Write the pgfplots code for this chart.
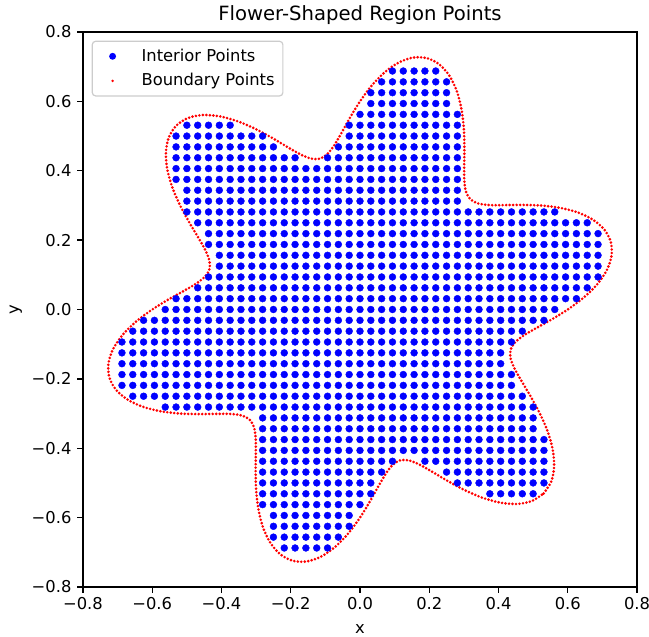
\documentclass[border=0pt]{standalone}
\usepackage{fontspec}
\setmainfont{DejaVu Sans}
\usepackage{pgfplots}
\pgfplotsset{compat=1.18}
\usepackage{pgfplotstable}

% boundary r = 0.6 + 0.15 sin(6 theta), every 3 degrees
\pgfplotstableread{
x y
0.5303 -0.5303
0.5519 -0.4969
0.5606 -0.4540
0.5567 -0.4045
0.5421 -0.3520
0.5196 -0.3000
0.4933 -0.2514
0.4676 -0.2082
0.4469 -0.1715
0.4350 -0.1413
0.4347 -0.1165
0.4474 -0.0951
0.4728 -0.0749
0.5090 -0.0535
0.5529 -0.0290
0.6000 0.0000
0.6455 0.0338
0.6844 0.0719
0.7125 0.1128
0.7264 0.1544
0.7244 0.1941
0.7063 0.2295
0.6734 0.2585
0.6287 0.2799
0.5759 0.2934
0.5196 0.3000
0.4643 0.3015
0.4141 0.3009
0.3720 0.3012
0.3399 0.3060
0.3182 0.3182
0.3060 0.3399
0.3012 0.3720
0.3009 0.4141
0.3015 0.4643
0.3000 0.5196
0.2934 0.5759
0.2799 0.6287
0.2585 0.6734
0.2295 0.7063
0.1941 0.7244
0.1544 0.7264
0.1128 0.7125
0.0719 0.6844
0.0338 0.6455
0.0000 0.6000
-0.0290 0.5529
-0.0535 0.5090
-0.0749 0.4728
-0.0951 0.4474
-0.1165 0.4347
-0.1413 0.4350
-0.1715 0.4469
-0.2082 0.4676
-0.2514 0.4933
-0.3000 0.5196
-0.3520 0.5421
-0.4045 0.5567
-0.4540 0.5606
-0.4969 0.5519
-0.5303 0.5303
-0.5519 0.4969
-0.5606 0.4540
-0.5567 0.4045
-0.5421 0.3520
-0.5196 0.3000
-0.4933 0.2514
-0.4676 0.2082
-0.4469 0.1715
-0.4350 0.1413
-0.4347 0.1165
-0.4474 0.0951
-0.4728 0.0749
-0.5090 0.0535
-0.5529 0.0290
-0.6000 0.0000
-0.6455 -0.0338
-0.6844 -0.0719
-0.7125 -0.1128
-0.7264 -0.1544
-0.7244 -0.1941
-0.7063 -0.2295
-0.6734 -0.2585
-0.6287 -0.2799
-0.5759 -0.2934
-0.5196 -0.3000
-0.4643 -0.3015
-0.4141 -0.3009
-0.3720 -0.3012
-0.3399 -0.3060
-0.3182 -0.3182
-0.3060 -0.3399
-0.3012 -0.3720
-0.3009 -0.4141
-0.3015 -0.4643
-0.3000 -0.5196
-0.2934 -0.5759
-0.2799 -0.6287
-0.2585 -0.6734
-0.2295 -0.7063
-0.1941 -0.7244
-0.1544 -0.7264
-0.1128 -0.7125
-0.0719 -0.6844
-0.0338 -0.6455
0.0000 -0.6000
0.0290 -0.5529
0.0535 -0.5090
0.0749 -0.4728
0.0951 -0.4474
0.1165 -0.4347
0.1413 -0.4350
0.1715 -0.4469
0.2082 -0.4676
0.2514 -0.4933
0.3000 -0.5196
0.3520 -0.5421
0.4045 -0.5567
0.4540 -0.5606
0.4969 -0.5519
0.5303 -0.5303
}\boundary

\pgfplotstableread{
x y
0.09375 0.6875
0.125 0.6875
0.15625 0.6875
0.1875 0.6875
0.21875 0.6875
0.0625 0.65625
0.09375 0.65625
0.125 0.65625
0.15625 0.65625
0.1875 0.65625
0.21875 0.65625
0.25 0.65625
0.03125 0.625
0.0625 0.625
0.09375 0.625
0.125 0.625
0.15625 0.625
0.1875 0.625
0.21875 0.625
0.25 0.625
0.03125 0.59375
0.0625 0.59375
0.09375 0.59375
0.125 0.59375
0.15625 0.59375
0.1875 0.59375
0.21875 0.59375
0.25 0.59375
0 0.5625
0.03125 0.5625
0.0625 0.5625
0.09375 0.5625
0.125 0.5625
0.15625 0.5625
0.1875 0.5625
0.21875 0.5625
0.25 0.5625
0.28125 0.5625
-0.5 0.53125
-0.46875 0.53125
-0.4375 0.53125
-0.40625 0.53125
-0.375 0.53125
-0.03125 0.53125
0 0.53125
0.03125 0.53125
0.0625 0.53125
0.09375 0.53125
0.125 0.53125
0.15625 0.53125
0.1875 0.53125
0.21875 0.53125
0.25 0.53125
0.28125 0.53125
-0.53125 0.5
-0.5 0.5
-0.46875 0.5
-0.4375 0.5
-0.40625 0.5
-0.375 0.5
-0.34375 0.5
-0.3125 0.5
-0.28125 0.5
-0.03125 0.5
0 0.5
0.03125 0.5
0.0625 0.5
0.09375 0.5
0.125 0.5
0.15625 0.5
0.1875 0.5
0.21875 0.5
0.25 0.5
0.28125 0.5
-0.53125 0.46875
-0.5 0.46875
-0.46875 0.46875
-0.4375 0.46875
-0.40625 0.46875
-0.375 0.46875
-0.34375 0.46875
-0.3125 0.46875
-0.28125 0.46875
-0.25 0.46875
-0.0625 0.46875
-0.03125 0.46875
0 0.46875
0.03125 0.46875
0.0625 0.46875
0.09375 0.46875
0.125 0.46875
0.15625 0.46875
0.1875 0.46875
0.21875 0.46875
0.25 0.46875
0.28125 0.46875
-0.53125 0.4375
-0.5 0.4375
-0.46875 0.4375
-0.4375 0.4375
-0.40625 0.4375
-0.375 0.4375
-0.34375 0.4375
-0.3125 0.4375
-0.28125 0.4375
-0.25 0.4375
-0.21875 0.4375
-0.1875 0.4375
-0.09375 0.4375
-0.0625 0.4375
-0.03125 0.4375
0 0.4375
0.03125 0.4375
0.0625 0.4375
0.09375 0.4375
0.125 0.4375
0.15625 0.4375
0.1875 0.4375
0.21875 0.4375
0.25 0.4375
0.28125 0.4375
-0.53125 0.40625
-0.5 0.40625
-0.46875 0.40625
-0.4375 0.40625
-0.40625 0.40625
-0.375 0.40625
-0.34375 0.40625
-0.3125 0.40625
-0.28125 0.40625
-0.25 0.40625
-0.21875 0.40625
-0.1875 0.40625
-0.15625 0.40625
-0.125 0.40625
-0.09375 0.40625
-0.0625 0.40625
-0.03125 0.40625
0 0.40625
0.03125 0.40625
0.0625 0.40625
0.09375 0.40625
0.125 0.40625
0.15625 0.40625
0.1875 0.40625
0.21875 0.40625
0.25 0.40625
0.28125 0.40625
-0.53125 0.375
-0.5 0.375
-0.46875 0.375
-0.4375 0.375
-0.40625 0.375
-0.375 0.375
-0.34375 0.375
-0.3125 0.375
-0.28125 0.375
-0.25 0.375
-0.21875 0.375
-0.1875 0.375
-0.15625 0.375
-0.125 0.375
-0.09375 0.375
-0.0625 0.375
-0.03125 0.375
0 0.375
0.03125 0.375
0.0625 0.375
0.09375 0.375
0.125 0.375
0.15625 0.375
0.1875 0.375
0.21875 0.375
0.25 0.375
0.28125 0.375
-0.5 0.34375
-0.46875 0.34375
-0.4375 0.34375
-0.40625 0.34375
-0.375 0.34375
-0.34375 0.34375
-0.3125 0.34375
-0.28125 0.34375
-0.25 0.34375
-0.21875 0.34375
-0.1875 0.34375
-0.15625 0.34375
-0.125 0.34375
-0.09375 0.34375
-0.0625 0.34375
-0.03125 0.34375
0 0.34375
0.03125 0.34375
0.0625 0.34375
0.09375 0.34375
0.125 0.34375
0.15625 0.34375
0.1875 0.34375
0.21875 0.34375
0.25 0.34375
0.28125 0.34375
-0.5 0.3125
-0.46875 0.3125
-0.4375 0.3125
-0.40625 0.3125
-0.375 0.3125
-0.34375 0.3125
-0.3125 0.3125
-0.28125 0.3125
-0.25 0.3125
-0.21875 0.3125
-0.1875 0.3125
-0.15625 0.3125
-0.125 0.3125
-0.09375 0.3125
-0.0625 0.3125
-0.03125 0.3125
0 0.3125
0.03125 0.3125
0.0625 0.3125
0.09375 0.3125
0.125 0.3125
0.15625 0.3125
0.1875 0.3125
0.21875 0.3125
0.25 0.3125
0.28125 0.3125
-0.5 0.28125
-0.46875 0.28125
-0.4375 0.28125
-0.40625 0.28125
-0.375 0.28125
-0.34375 0.28125
-0.3125 0.28125
-0.28125 0.28125
-0.25 0.28125
-0.21875 0.28125
-0.1875 0.28125
-0.15625 0.28125
-0.125 0.28125
-0.09375 0.28125
-0.0625 0.28125
-0.03125 0.28125
0 0.28125
0.03125 0.28125
0.0625 0.28125
0.09375 0.28125
0.125 0.28125
0.15625 0.28125
0.1875 0.28125
0.21875 0.28125
0.25 0.28125
0.28125 0.28125
0.3125 0.28125
0.34375 0.28125
0.375 0.28125
0.40625 0.28125
0.4375 0.28125
0.46875 0.28125
0.5 0.28125
0.53125 0.28125
0.5625 0.28125
-0.46875 0.25
-0.4375 0.25
-0.40625 0.25
-0.375 0.25
-0.34375 0.25
-0.3125 0.25
-0.28125 0.25
-0.25 0.25
-0.21875 0.25
-0.1875 0.25
-0.15625 0.25
-0.125 0.25
-0.09375 0.25
-0.0625 0.25
-0.03125 0.25
0 0.25
0.03125 0.25
0.0625 0.25
0.09375 0.25
0.125 0.25
0.15625 0.25
0.1875 0.25
0.21875 0.25
0.25 0.25
0.28125 0.25
0.3125 0.25
0.34375 0.25
0.375 0.25
0.40625 0.25
0.4375 0.25
0.46875 0.25
0.5 0.25
0.53125 0.25
0.5625 0.25
0.59375 0.25
0.625 0.25
0.65625 0.25
-0.4375 0.21875
-0.40625 0.21875
-0.375 0.21875
-0.34375 0.21875
-0.3125 0.21875
-0.28125 0.21875
-0.25 0.21875
-0.21875 0.21875
-0.1875 0.21875
-0.15625 0.21875
-0.125 0.21875
-0.09375 0.21875
-0.0625 0.21875
-0.03125 0.21875
0 0.21875
0.03125 0.21875
0.0625 0.21875
0.09375 0.21875
0.125 0.21875
0.15625 0.21875
0.1875 0.21875
0.21875 0.21875
0.25 0.21875
0.28125 0.21875
0.3125 0.21875
0.34375 0.21875
0.375 0.21875
0.40625 0.21875
0.4375 0.21875
0.46875 0.21875
0.5 0.21875
0.53125 0.21875
0.5625 0.21875
0.59375 0.21875
0.625 0.21875
0.65625 0.21875
0.6875 0.21875
-0.4375 0.1875
-0.40625 0.1875
-0.375 0.1875
-0.34375 0.1875
-0.3125 0.1875
-0.28125 0.1875
-0.25 0.1875
-0.21875 0.1875
-0.1875 0.1875
-0.15625 0.1875
-0.125 0.1875
-0.09375 0.1875
-0.0625 0.1875
-0.03125 0.1875
0 0.1875
0.03125 0.1875
0.0625 0.1875
0.09375 0.1875
0.125 0.1875
0.15625 0.1875
0.1875 0.1875
0.21875 0.1875
0.25 0.1875
0.28125 0.1875
0.3125 0.1875
0.34375 0.1875
0.375 0.1875
0.40625 0.1875
0.4375 0.1875
0.46875 0.1875
0.5 0.1875
0.53125 0.1875
0.5625 0.1875
0.59375 0.1875
0.625 0.1875
0.65625 0.1875
0.6875 0.1875
-0.40625 0.15625
-0.375 0.15625
-0.34375 0.15625
-0.3125 0.15625
-0.28125 0.15625
-0.25 0.15625
-0.21875 0.15625
-0.1875 0.15625
-0.15625 0.15625
-0.125 0.15625
-0.09375 0.15625
-0.0625 0.15625
-0.03125 0.15625
0 0.15625
0.03125 0.15625
0.0625 0.15625
0.09375 0.15625
0.125 0.15625
0.15625 0.15625
0.1875 0.15625
0.21875 0.15625
0.25 0.15625
0.28125 0.15625
0.3125 0.15625
0.34375 0.15625
0.375 0.15625
0.40625 0.15625
0.4375 0.15625
0.46875 0.15625
0.5 0.15625
0.53125 0.15625
0.5625 0.15625
0.59375 0.15625
0.625 0.15625
0.65625 0.15625
0.6875 0.15625
-0.40625 0.125
-0.375 0.125
-0.34375 0.125
-0.3125 0.125
-0.28125 0.125
-0.25 0.125
-0.21875 0.125
-0.1875 0.125
-0.15625 0.125
-0.125 0.125
-0.09375 0.125
-0.0625 0.125
-0.03125 0.125
0 0.125
0.03125 0.125
0.0625 0.125
0.09375 0.125
0.125 0.125
0.15625 0.125
0.1875 0.125
0.21875 0.125
0.25 0.125
0.28125 0.125
0.3125 0.125
0.34375 0.125
0.375 0.125
0.40625 0.125
0.4375 0.125
0.46875 0.125
0.5 0.125
0.53125 0.125
0.5625 0.125
0.59375 0.125
0.625 0.125
0.65625 0.125
0.6875 0.125
-0.4375 0.09375
-0.40625 0.09375
-0.375 0.09375
-0.34375 0.09375
-0.3125 0.09375
-0.28125 0.09375
-0.25 0.09375
-0.21875 0.09375
-0.1875 0.09375
-0.15625 0.09375
-0.125 0.09375
-0.09375 0.09375
-0.0625 0.09375
-0.03125 0.09375
0 0.09375
0.03125 0.09375
0.0625 0.09375
0.09375 0.09375
0.125 0.09375
0.15625 0.09375
0.1875 0.09375
0.21875 0.09375
0.25 0.09375
0.28125 0.09375
0.3125 0.09375
0.34375 0.09375
0.375 0.09375
0.40625 0.09375
0.4375 0.09375
0.46875 0.09375
0.5 0.09375
0.53125 0.09375
0.5625 0.09375
0.59375 0.09375
0.625 0.09375
0.65625 0.09375
0.6875 0.09375
-0.46875 0.0625
-0.4375 0.0625
-0.40625 0.0625
-0.375 0.0625
-0.34375 0.0625
-0.3125 0.0625
-0.28125 0.0625
-0.25 0.0625
-0.21875 0.0625
-0.1875 0.0625
-0.15625 0.0625
-0.125 0.0625
-0.09375 0.0625
-0.0625 0.0625
-0.03125 0.0625
0 0.0625
0.03125 0.0625
0.0625 0.0625
0.09375 0.0625
0.125 0.0625
0.15625 0.0625
0.1875 0.0625
0.21875 0.0625
0.25 0.0625
0.28125 0.0625
0.3125 0.0625
0.34375 0.0625
0.375 0.0625
0.40625 0.0625
0.4375 0.0625
0.46875 0.0625
0.5 0.0625
0.53125 0.0625
0.5625 0.0625
0.59375 0.0625
0.625 0.0625
0.65625 0.0625
-0.53125 0.03125
-0.5 0.03125
-0.46875 0.03125
-0.4375 0.03125
-0.40625 0.03125
-0.375 0.03125
-0.34375 0.03125
-0.3125 0.03125
-0.28125 0.03125
-0.25 0.03125
-0.21875 0.03125
-0.1875 0.03125
-0.15625 0.03125
-0.125 0.03125
-0.09375 0.03125
-0.0625 0.03125
-0.03125 0.03125
0 0.03125
0.03125 0.03125
0.0625 0.03125
0.09375 0.03125
0.125 0.03125
0.15625 0.03125
0.1875 0.03125
0.21875 0.03125
0.25 0.03125
0.28125 0.03125
0.3125 0.03125
0.34375 0.03125
0.375 0.03125
0.40625 0.03125
0.4375 0.03125
0.46875 0.03125
0.5 0.03125
0.53125 0.03125
0.5625 0.03125
0.59375 0.03125
0.625 0.03125
-0.5625 0
-0.53125 0
-0.5 0
-0.46875 0
-0.4375 0
-0.40625 0
-0.375 0
-0.34375 0
-0.3125 0
-0.28125 0
-0.25 0
-0.21875 0
-0.1875 0
-0.15625 0
-0.125 0
-0.09375 0
-0.0625 0
-0.03125 0
0 0
0.03125 0
0.0625 0
0.09375 0
0.125 0
0.15625 0
0.1875 0
0.21875 0
0.25 0
0.28125 0
0.3125 0
0.34375 0
0.375 0
0.40625 0
0.4375 0
0.46875 0
0.5 0
0.53125 0
0.5625 0
-0.625 -0.03125
-0.59375 -0.03125
-0.5625 -0.03125
-0.53125 -0.03125
-0.5 -0.03125
-0.46875 -0.03125
-0.4375 -0.03125
-0.40625 -0.03125
-0.375 -0.03125
-0.34375 -0.03125
-0.3125 -0.03125
-0.28125 -0.03125
-0.25 -0.03125
-0.21875 -0.03125
-0.1875 -0.03125
-0.15625 -0.03125
-0.125 -0.03125
-0.09375 -0.03125
-0.0625 -0.03125
-0.03125 -0.03125
0 -0.03125
0.03125 -0.03125
0.0625 -0.03125
0.09375 -0.03125
0.125 -0.03125
0.15625 -0.03125
0.1875 -0.03125
0.21875 -0.03125
0.25 -0.03125
0.28125 -0.03125
0.3125 -0.03125
0.34375 -0.03125
0.375 -0.03125
0.40625 -0.03125
0.4375 -0.03125
0.46875 -0.03125
0.5 -0.03125
0.53125 -0.03125
-0.65625 -0.0625
-0.625 -0.0625
-0.59375 -0.0625
-0.5625 -0.0625
-0.53125 -0.0625
-0.5 -0.0625
-0.46875 -0.0625
-0.4375 -0.0625
-0.40625 -0.0625
-0.375 -0.0625
-0.34375 -0.0625
-0.3125 -0.0625
-0.28125 -0.0625
-0.25 -0.0625
-0.21875 -0.0625
-0.1875 -0.0625
-0.15625 -0.0625
-0.125 -0.0625
-0.09375 -0.0625
-0.0625 -0.0625
-0.03125 -0.0625
0 -0.0625
0.03125 -0.0625
0.0625 -0.0625
0.09375 -0.0625
0.125 -0.0625
0.15625 -0.0625
0.1875 -0.0625
0.21875 -0.0625
0.25 -0.0625
0.28125 -0.0625
0.3125 -0.0625
0.34375 -0.0625
0.375 -0.0625
0.40625 -0.0625
0.4375 -0.0625
0.46875 -0.0625
-0.6875 -0.09375
-0.65625 -0.09375
-0.625 -0.09375
-0.59375 -0.09375
-0.5625 -0.09375
-0.53125 -0.09375
-0.5 -0.09375
-0.46875 -0.09375
-0.4375 -0.09375
-0.40625 -0.09375
-0.375 -0.09375
-0.34375 -0.09375
-0.3125 -0.09375
-0.28125 -0.09375
-0.25 -0.09375
-0.21875 -0.09375
-0.1875 -0.09375
-0.15625 -0.09375
-0.125 -0.09375
-0.09375 -0.09375
-0.0625 -0.09375
-0.03125 -0.09375
0 -0.09375
0.03125 -0.09375
0.0625 -0.09375
0.09375 -0.09375
0.125 -0.09375
0.15625 -0.09375
0.1875 -0.09375
0.21875 -0.09375
0.25 -0.09375
0.28125 -0.09375
0.3125 -0.09375
0.34375 -0.09375
0.375 -0.09375
0.40625 -0.09375
0.4375 -0.09375
-0.6875 -0.125
-0.65625 -0.125
-0.625 -0.125
-0.59375 -0.125
-0.5625 -0.125
-0.53125 -0.125
-0.5 -0.125
-0.46875 -0.125
-0.4375 -0.125
-0.40625 -0.125
-0.375 -0.125
-0.34375 -0.125
-0.3125 -0.125
-0.28125 -0.125
-0.25 -0.125
-0.21875 -0.125
-0.1875 -0.125
-0.15625 -0.125
-0.125 -0.125
-0.09375 -0.125
-0.0625 -0.125
-0.03125 -0.125
0 -0.125
0.03125 -0.125
0.0625 -0.125
0.09375 -0.125
0.125 -0.125
0.15625 -0.125
0.1875 -0.125
0.21875 -0.125
0.25 -0.125
0.28125 -0.125
0.3125 -0.125
0.34375 -0.125
0.375 -0.125
0.40625 -0.125
-0.6875 -0.15625
-0.65625 -0.15625
-0.625 -0.15625
-0.59375 -0.15625
-0.5625 -0.15625
-0.53125 -0.15625
-0.5 -0.15625
-0.46875 -0.15625
-0.4375 -0.15625
-0.40625 -0.15625
-0.375 -0.15625
-0.34375 -0.15625
-0.3125 -0.15625
-0.28125 -0.15625
-0.25 -0.15625
-0.21875 -0.15625
-0.1875 -0.15625
-0.15625 -0.15625
-0.125 -0.15625
-0.09375 -0.15625
-0.0625 -0.15625
-0.03125 -0.15625
0 -0.15625
0.03125 -0.15625
0.0625 -0.15625
0.09375 -0.15625
0.125 -0.15625
0.15625 -0.15625
0.1875 -0.15625
0.21875 -0.15625
0.25 -0.15625
0.28125 -0.15625
0.3125 -0.15625
0.34375 -0.15625
0.375 -0.15625
0.40625 -0.15625
-0.6875 -0.1875
-0.65625 -0.1875
-0.625 -0.1875
-0.59375 -0.1875
-0.5625 -0.1875
-0.53125 -0.1875
-0.5 -0.1875
-0.46875 -0.1875
-0.4375 -0.1875
-0.40625 -0.1875
-0.375 -0.1875
-0.34375 -0.1875
-0.3125 -0.1875
-0.28125 -0.1875
-0.25 -0.1875
-0.21875 -0.1875
-0.1875 -0.1875
-0.15625 -0.1875
-0.125 -0.1875
-0.09375 -0.1875
-0.0625 -0.1875
-0.03125 -0.1875
0 -0.1875
0.03125 -0.1875
0.0625 -0.1875
0.09375 -0.1875
0.125 -0.1875
0.15625 -0.1875
0.1875 -0.1875
0.21875 -0.1875
0.25 -0.1875
0.28125 -0.1875
0.3125 -0.1875
0.34375 -0.1875
0.375 -0.1875
0.40625 -0.1875
0.4375 -0.1875
-0.6875 -0.21875
-0.65625 -0.21875
-0.625 -0.21875
-0.59375 -0.21875
-0.5625 -0.21875
-0.53125 -0.21875
-0.5 -0.21875
-0.46875 -0.21875
-0.4375 -0.21875
-0.40625 -0.21875
-0.375 -0.21875
-0.34375 -0.21875
-0.3125 -0.21875
-0.28125 -0.21875
-0.25 -0.21875
-0.21875 -0.21875
-0.1875 -0.21875
-0.15625 -0.21875
-0.125 -0.21875
-0.09375 -0.21875
-0.0625 -0.21875
-0.03125 -0.21875
0 -0.21875
0.03125 -0.21875
0.0625 -0.21875
0.09375 -0.21875
0.125 -0.21875
0.15625 -0.21875
0.1875 -0.21875
0.21875 -0.21875
0.25 -0.21875
0.28125 -0.21875
0.3125 -0.21875
0.34375 -0.21875
0.375 -0.21875
0.40625 -0.21875
0.4375 -0.21875
-0.65625 -0.25
-0.625 -0.25
-0.59375 -0.25
-0.5625 -0.25
-0.53125 -0.25
-0.5 -0.25
-0.46875 -0.25
-0.4375 -0.25
-0.40625 -0.25
-0.375 -0.25
-0.34375 -0.25
-0.3125 -0.25
-0.28125 -0.25
-0.25 -0.25
-0.21875 -0.25
-0.1875 -0.25
-0.15625 -0.25
-0.125 -0.25
-0.09375 -0.25
-0.0625 -0.25
-0.03125 -0.25
0 -0.25
0.03125 -0.25
0.0625 -0.25
0.09375 -0.25
0.125 -0.25
0.15625 -0.25
0.1875 -0.25
0.21875 -0.25
0.25 -0.25
0.28125 -0.25
0.3125 -0.25
0.34375 -0.25
0.375 -0.25
0.40625 -0.25
0.4375 -0.25
0.46875 -0.25
-0.5625 -0.28125
-0.53125 -0.28125
-0.5 -0.28125
-0.46875 -0.28125
-0.4375 -0.28125
-0.40625 -0.28125
-0.375 -0.28125
-0.34375 -0.28125
-0.3125 -0.28125
-0.28125 -0.28125
-0.25 -0.28125
-0.21875 -0.28125
-0.1875 -0.28125
-0.15625 -0.28125
-0.125 -0.28125
-0.09375 -0.28125
-0.0625 -0.28125
-0.03125 -0.28125
0 -0.28125
0.03125 -0.28125
0.0625 -0.28125
0.09375 -0.28125
0.125 -0.28125
0.15625 -0.28125
0.1875 -0.28125
0.21875 -0.28125
0.25 -0.28125
0.28125 -0.28125
0.3125 -0.28125
0.34375 -0.28125
0.375 -0.28125
0.40625 -0.28125
0.4375 -0.28125
0.46875 -0.28125
0.5 -0.28125
-0.28125 -0.3125
-0.25 -0.3125
-0.21875 -0.3125
-0.1875 -0.3125
-0.15625 -0.3125
-0.125 -0.3125
-0.09375 -0.3125
-0.0625 -0.3125
-0.03125 -0.3125
0 -0.3125
0.03125 -0.3125
0.0625 -0.3125
0.09375 -0.3125
0.125 -0.3125
0.15625 -0.3125
0.1875 -0.3125
0.21875 -0.3125
0.25 -0.3125
0.28125 -0.3125
0.3125 -0.3125
0.34375 -0.3125
0.375 -0.3125
0.40625 -0.3125
0.4375 -0.3125
0.46875 -0.3125
0.5 -0.3125
-0.28125 -0.34375
-0.25 -0.34375
-0.21875 -0.34375
-0.1875 -0.34375
-0.15625 -0.34375
-0.125 -0.34375
-0.09375 -0.34375
-0.0625 -0.34375
-0.03125 -0.34375
0 -0.34375
0.03125 -0.34375
0.0625 -0.34375
0.09375 -0.34375
0.125 -0.34375
0.15625 -0.34375
0.1875 -0.34375
0.21875 -0.34375
0.25 -0.34375
0.28125 -0.34375
0.3125 -0.34375
0.34375 -0.34375
0.375 -0.34375
0.40625 -0.34375
0.4375 -0.34375
0.46875 -0.34375
0.5 -0.34375
-0.28125 -0.375
-0.25 -0.375
-0.21875 -0.375
-0.1875 -0.375
-0.15625 -0.375
-0.125 -0.375
-0.09375 -0.375
-0.0625 -0.375
-0.03125 -0.375
0 -0.375
0.03125 -0.375
0.0625 -0.375
0.09375 -0.375
0.125 -0.375
0.15625 -0.375
0.1875 -0.375
0.21875 -0.375
0.25 -0.375
0.28125 -0.375
0.3125 -0.375
0.34375 -0.375
0.375 -0.375
0.40625 -0.375
0.4375 -0.375
0.46875 -0.375
0.5 -0.375
0.53125 -0.375
-0.28125 -0.40625
-0.25 -0.40625
-0.21875 -0.40625
-0.1875 -0.40625
-0.15625 -0.40625
-0.125 -0.40625
-0.09375 -0.40625
-0.0625 -0.40625
-0.03125 -0.40625
0 -0.40625
0.03125 -0.40625
0.0625 -0.40625
0.09375 -0.40625
0.125 -0.40625
0.15625 -0.40625
0.1875 -0.40625
0.21875 -0.40625
0.25 -0.40625
0.28125 -0.40625
0.3125 -0.40625
0.34375 -0.40625
0.375 -0.40625
0.40625 -0.40625
0.4375 -0.40625
0.46875 -0.40625
0.5 -0.40625
0.53125 -0.40625
-0.28125 -0.4375
-0.25 -0.4375
-0.21875 -0.4375
-0.1875 -0.4375
-0.15625 -0.4375
-0.125 -0.4375
-0.09375 -0.4375
-0.0625 -0.4375
-0.03125 -0.4375
0 -0.4375
0.03125 -0.4375
0.0625 -0.4375
0.09375 -0.4375
0.1875 -0.4375
0.21875 -0.4375
0.25 -0.4375
0.28125 -0.4375
0.3125 -0.4375
0.34375 -0.4375
0.375 -0.4375
0.40625 -0.4375
0.4375 -0.4375
0.46875 -0.4375
0.5 -0.4375
0.53125 -0.4375
-0.28125 -0.46875
-0.25 -0.46875
-0.21875 -0.46875
-0.1875 -0.46875
-0.15625 -0.46875
-0.125 -0.46875
-0.09375 -0.46875
-0.0625 -0.46875
-0.03125 -0.46875
0 -0.46875
0.03125 -0.46875
0.0625 -0.46875
0.25 -0.46875
0.28125 -0.46875
0.3125 -0.46875
0.34375 -0.46875
0.375 -0.46875
0.40625 -0.46875
0.4375 -0.46875
0.46875 -0.46875
0.5 -0.46875
0.53125 -0.46875
-0.28125 -0.5
-0.25 -0.5
-0.21875 -0.5
-0.1875 -0.5
-0.15625 -0.5
-0.125 -0.5
-0.09375 -0.5
-0.0625 -0.5
-0.03125 -0.5
0 -0.5
0.03125 -0.5
0.28125 -0.5
0.3125 -0.5
0.34375 -0.5
0.375 -0.5
0.40625 -0.5
0.4375 -0.5
0.46875 -0.5
0.5 -0.5
0.53125 -0.5
-0.28125 -0.53125
-0.25 -0.53125
-0.21875 -0.53125
-0.1875 -0.53125
-0.15625 -0.53125
-0.125 -0.53125
-0.09375 -0.53125
-0.0625 -0.53125
-0.03125 -0.53125
0 -0.53125
0.03125 -0.53125
0.375 -0.53125
0.40625 -0.53125
0.4375 -0.53125
0.46875 -0.53125
0.5 -0.53125
-0.28125 -0.5625
-0.25 -0.5625
-0.21875 -0.5625
-0.1875 -0.5625
-0.15625 -0.5625
-0.125 -0.5625
-0.09375 -0.5625
-0.0625 -0.5625
-0.03125 -0.5625
0 -0.5625
-0.25 -0.59375
-0.21875 -0.59375
-0.1875 -0.59375
-0.15625 -0.59375
-0.125 -0.59375
-0.09375 -0.59375
-0.0625 -0.59375
-0.03125 -0.59375
-0.25 -0.625
-0.21875 -0.625
-0.1875 -0.625
-0.15625 -0.625
-0.125 -0.625
-0.09375 -0.625
-0.0625 -0.625
-0.03125 -0.625
-0.25 -0.65625
-0.21875 -0.65625
-0.1875 -0.65625
-0.15625 -0.65625
-0.125 -0.65625
-0.09375 -0.65625
-0.0625 -0.65625
-0.21875 -0.6875
-0.1875 -0.6875
-0.15625 -0.6875
-0.125 -0.6875
-0.09375 -0.6875
}\interior

\newcommand\lfont{\fontsize{16.4}{19}\selectfont}

\begin{document}
\begin{tikzpicture}
\path[use as bounding box] (0bp,0bp) rectangle (649bp,637bp);
\begin{axis}[
  at={(83bp,50bp)}, anchor=south west,
  scale only axis, width=554bp, height=555bp,
  xmin=-0.8, xmax=0.8, ymin=-0.8, ymax=0.8,
  axis line style={black, line width=1.3bp},
  tick align=outside, xtick pos=bottom, ytick pos=left,
  major tick length=5.7bp,
  every tick/.style={black, line width=1.3bp},
  xtick={-0.8,-0.6,-0.4,-0.2,0,0.2,0.4,0.6,0.8},
  ytick={-0.8,-0.6,-0.4,-0.2,0,0.2,0.4,0.6,0.8},
  xticklabels={−0.8,−0.6,−0.4,−0.2,0.0,0.2,0.4,0.6,0.8},
  yticklabels={−0.8,−0.6,−0.4,−0.2,0.0,0.2,0.4,0.6,0.8},
  tick label style={font=\lfont},
  xticklabel style={inner sep=0pt, anchor=north},
  yticklabel style={inner sep=0pt, anchor=east},
  xticklabel shift=4.5bp, yticklabel shift=5.7bp,
  every axis title/.style={at={(axis description cs:0.5,1)}, anchor=base, inner sep=0pt, yshift=11bp, font=\fontsize{19.7}{23}\selectfont},
  title={Flower-Shaped Region Points},
  xlabel={x}, ylabel={y},
  xlabel style={at={(axis description cs:0.5,-0.083)}, anchor=base, inner sep=0pt, font=\lfont},
  ylabel style={at={(axis description cs:-0.116,0.5)}, anchor=base, inner sep=0pt, font=\lfont},
  legend cell align=left,
  legend style={at={(axis description cs:0.0157,0.9843)}, anchor=north west,
    draw=black!20, line width=1.2bp, rounded corners=3.3bp,
    fill=white, fill opacity=0.8, draw opacity=1, text opacity=1,
    inner xsep=8.3bp, inner ysep=7bp, row sep=8.6bp, column sep=0pt,
    font=\lfont, nodes={inner sep=0pt, text height=13bp, text depth=3bp}},
]
\addplot[blue, only marks, mark=*, mark size=3.45bp, mark options={draw=none, fill=blue},
  legend image code/.code={\path[draw=none, fill=none] (0bp,-3bp) rectangle (41bp,3bp);
    \fill[blue, fill opacity=1, draw=none] (12bp,0bp) circle (3.45bp);}]
  table[x=x, y=y] {\interior};
\addlegendentry{Interior Points}
\addplot[red, smooth, line width=2.9bp, line cap=round, dash pattern=on 0bp off 3.5bp,
  legend image code/.code={\path[draw=none, fill=none] (0bp,-3bp) rectangle (41bp,3bp);
    \fill[red, fill opacity=1, draw=none] (12bp,0bp) circle (1.4bp);}]
  table[x=x, y=y] {\boundary};
\addlegendentry{Boundary Points}
\end{axis}
\end{tikzpicture}
\end{document}
